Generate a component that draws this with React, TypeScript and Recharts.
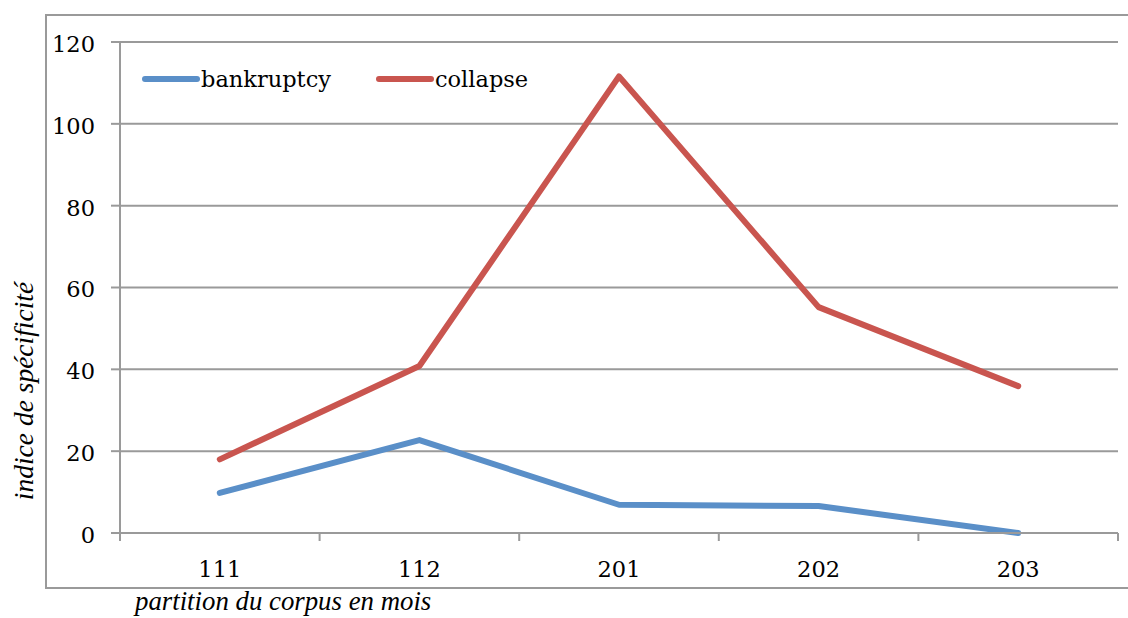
import React from 'react'
import { LineChart, Line, XAxis, YAxis, CartesianGrid } from 'recharts'

const categories = ['111', '112', '201', '202', '203']
const bankruptcy = [9.8, 22.7, 6.9, 6.6, 0]
const collapse = [18, 40.8, 111.6, 55.2, 35.9]
const yTicks = [0, 20, 40, 60, 80, 100, 120]

const BLUE = '#5a8fc8'
const RED = '#c9554f'
const GRID = '#9a9a9a'
const FONT = '"DejaVu Serif", "Liberation Serif", serif'
const TITLE_FONT = '"Liberation Serif", "Times New Roman", serif'

// one row per month, placed in the middle of its slot so the tick marks sit on slot borders
const data = categories.map((cat, i) => ({
    pos: i + 0.5,
    cat,
    bankruptcy: bankruptcy[i],
    collapse: collapse[i],
}))

const xTicks = [0, 0.5, 1, 1.5, 2, 2.5, 3, 3.5, 4, 4.5, 5]

function XTick(props: any) {
    const { x, y, payload } = props
    const v = payload.value as number
    if (Number.isInteger(v)) {
        return <line x1={x} x2={x} y1={y - 8} y2={y} stroke={GRID} strokeWidth={2} />
    }
    const label = categories[Math.floor(v)]
    return (
        <text x={x} y={y + 36} textAnchor="middle" fontFamily={FONT} fontSize={22.5} fill="#000">
            {label}
        </text>
    )
}

function LegendBox() {
    const items = [
        { name: 'bankruptcy', color: BLUE },
        { name: 'collapse', color: RED },
    ]
    return (
        <div style={{ display: 'flex', alignItems: 'center', fontFamily: FONT, fontSize: 22.5 }}>
            {items.map((it, i) => (
                <div key={it.name} style={{ display: 'flex', alignItems: 'center', marginRight: i === 0 ? 45 : 0 }}>
                    <svg width={58} height={10}>
                        <line x1={3} x2={55} y1={5} y2={5} stroke={it.color} strokeWidth={6} strokeLinecap="round" />
                    </svg>
                    <span style={{ marginLeft: 1 }}>{it.name}</span>
                </div>
            ))}
        </div>
    )
}

function YTitle() {
    return (
        <text
            x={33}
            y={391}
            transform="rotate(-90 33 391)"
            textAnchor="middle"
            fontFamily={TITLE_FONT}
            fontStyle="italic"
            fontSize={27.5}
            fill="#000"
        >
            indice de spécificité
        </text>
    )
}

export default function App() {
    return (
        <div style={{ position: 'absolute', left: 0, top: 0, width: 1128, height: 618, background: '#fff', overflow: 'hidden' }}>
            {/* frame around the chart */}
            <div
                style={{
                    position: 'absolute',
                    left: 45,
                    top: 14,
                    width: 1100,
                    height: 571,
                    borderLeft: `2px solid ${GRID}`,
                    borderTop: `2px solid ${GRID}`,
                    borderBottom: `2px solid ${GRID}`,
                }}
            />
            <div style={{ position: 'absolute', left: 0, top: 0 }}>
                <LineChart width={1128} height={618} data={data} margin={{ top: 42, right: 10, bottom: 0, left: 0 }}>
                    <CartesianGrid vertical={false} stroke={GRID} strokeWidth={2} horizontalValues={yTicks} />
                    <XAxis
                        dataKey="pos"
                        type="number"
                        domain={[0, 5]}
                        ticks={xTicks}
                        interval={0}
                        height={85}
                        tickSize={8}
                        tickMargin={0}
                        tickLine={false}
                        axisLine={{ stroke: GRID, strokeWidth: 2 }}
                        tick={<XTick />}
                    />
                    <YAxis
                        width={120}
                        domain={[0, 120]}
                        ticks={yTicks}
                        interval={0}
                        tickSize={9}
                        tickMargin={16}
                        axisLine={{ stroke: GRID, strokeWidth: 2 }}
                        tickLine={{ stroke: GRID, strokeWidth: 2 }}
                        tick={{ fill: '#000', fontFamily: FONT, fontSize: 22.5, dy: 2 }}
                        label={<YTitle />}
                    />
                    <Line
                        dataKey="bankruptcy"
                        stroke={BLUE}
                        strokeWidth={6}
                        strokeLinecap="round"
                        strokeLinejoin="round"
                        dot={false}
                        activeDot={false}
                        isAnimationActive={false}
                    />
                    <Line
                        dataKey="collapse"
                        stroke={RED}
                        strokeWidth={6}
                        strokeLinecap="round"
                        strokeLinejoin="round"
                        dot={false}
                        activeDot={false}
                        isAnimationActive={false}
                    />
                </LineChart>
            </div>
            <div style={{ position: 'absolute', left: 142, top: 66 }}>
                <LegendBox />
            </div>
            <div
                style={{
                    position: 'absolute',
                    left: 135,
                    top: 587,
                    fontFamily: TITLE_FONT,
                    fontStyle: 'italic',
                    fontSize: 26.8,
                    lineHeight: '29px',
                    whiteSpace: 'nowrap',
                    color: '#000',
                }}
            >
                partition du corpus en mois
            </div>
        </div>
    )
}
